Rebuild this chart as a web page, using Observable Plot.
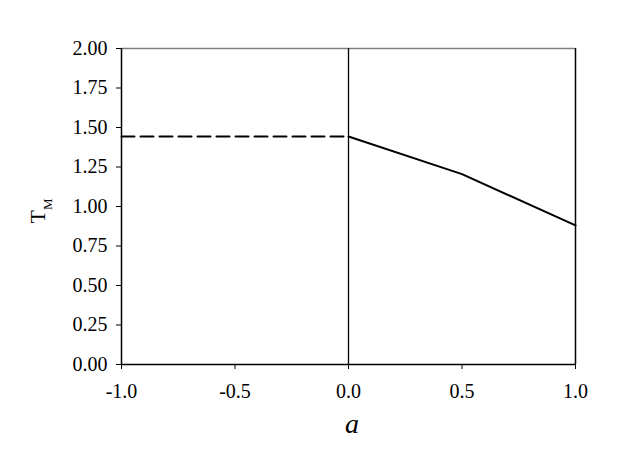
<!DOCTYPE html>
<html>
<head>
<meta charset="utf-8">
<script src="https://cdn.jsdelivr.net/npm/d3@7"></script>
<script src="https://cdn.jsdelivr.net/npm/@observablehq/plot@0.6"></script>
<style>
  html, body { margin: 0; padding: 0; background: #fff; }
  svg text { font-family: "Liberation Serif", serif; }
</style>
</head>
<body>
<div id="chart"></div>
<script>
const xTicks = [-1, -0.5, 0, 0.5, 1];
const yTicks = [0, 0.25, 0.5, 0.75, 1, 1.25, 1.5, 1.75, 2];
const dashedA = [-1, 0];
const dashedT = [1.443, 1.443];
const solidA = [0, 0.5, 1];
const solidT = [1.443, 1.205, 0.88];
const xLabel = "a";
const yLabelMain = "T";
const yLabelSub = "M";

const dashed = dashedA.map((a, i) => ({a, t: dashedT[i]}));
const solid = solidA.map((a, i) => ({a, t: solidT[i]}));

const fmtX = d => d.toFixed(1);
const fmtY = d => d.toFixed(2);

const chart = Plot.plot({
  width: 623,
  height: 468,
  marginLeft: 121,
  marginRight: 48,
  marginTop: 48,
  marginBottom: 104,
  style: {fontFamily: "'Liberation Serif', serif", fontSize: "20px", color: "#000", background: "#fff"},
  x: {domain: [-1, 1]},
  y: {domain: [0, 2]},
  marks: [
    Plot.axisX({ticks: xTicks, tickFormat: fmtX, tickSize: 5, tickPadding: 14, label: null, stroke: "#000", fontSize: 20, fill: "#000"}),
    Plot.axisY({ticks: yTicks, tickFormat: fmtY, tickSize: 5, tickPadding: 9, label: null, stroke: "#000", fontSize: 20, fill: "#000"}),
    Plot.ruleY([2], {stroke: "#808080", strokeWidth: 1.5}),
    Plot.ruleX([-1, 1], {stroke: "#000", strokeWidth: 1.5}),
    Plot.ruleY([0], {stroke: "#000", strokeWidth: 1.5}),
    Plot.ruleX([0], {stroke: "#000", strokeWidth: 1.3}),
    Plot.line(dashed, {x: "a", y: "t", stroke: "#000", strokeWidth: 2, strokeDasharray: "13,6"}),
    Plot.line(solid, {x: "a", y: "t", stroke: "#000", strokeWidth: 2})
  ]
});

const svg = d3.select(chart);
svg.append("text")
  .attr("x", 352).attr("y", 433)
  .attr("text-anchor", "middle")
  .attr("font-family", "Liberation Serif")
  .attr("font-style", "italic")
  .attr("font-size", 28)
  .attr("fill", "#000")
  .text(xLabel);

const yl = svg.append("text")
  .attr("transform", "translate(45,211) rotate(-90)")
  .attr("text-anchor", "middle")
  .attr("font-family", "Liberation Serif")
  .attr("font-size", 22)
  .attr("fill", "#000");
yl.append("tspan").text(yLabelMain);
yl.append("tspan").attr("dy", 7).attr("font-size", 13).text(yLabelSub);

document.getElementById("chart").appendChild(chart);
</script>
</body>
</html>
